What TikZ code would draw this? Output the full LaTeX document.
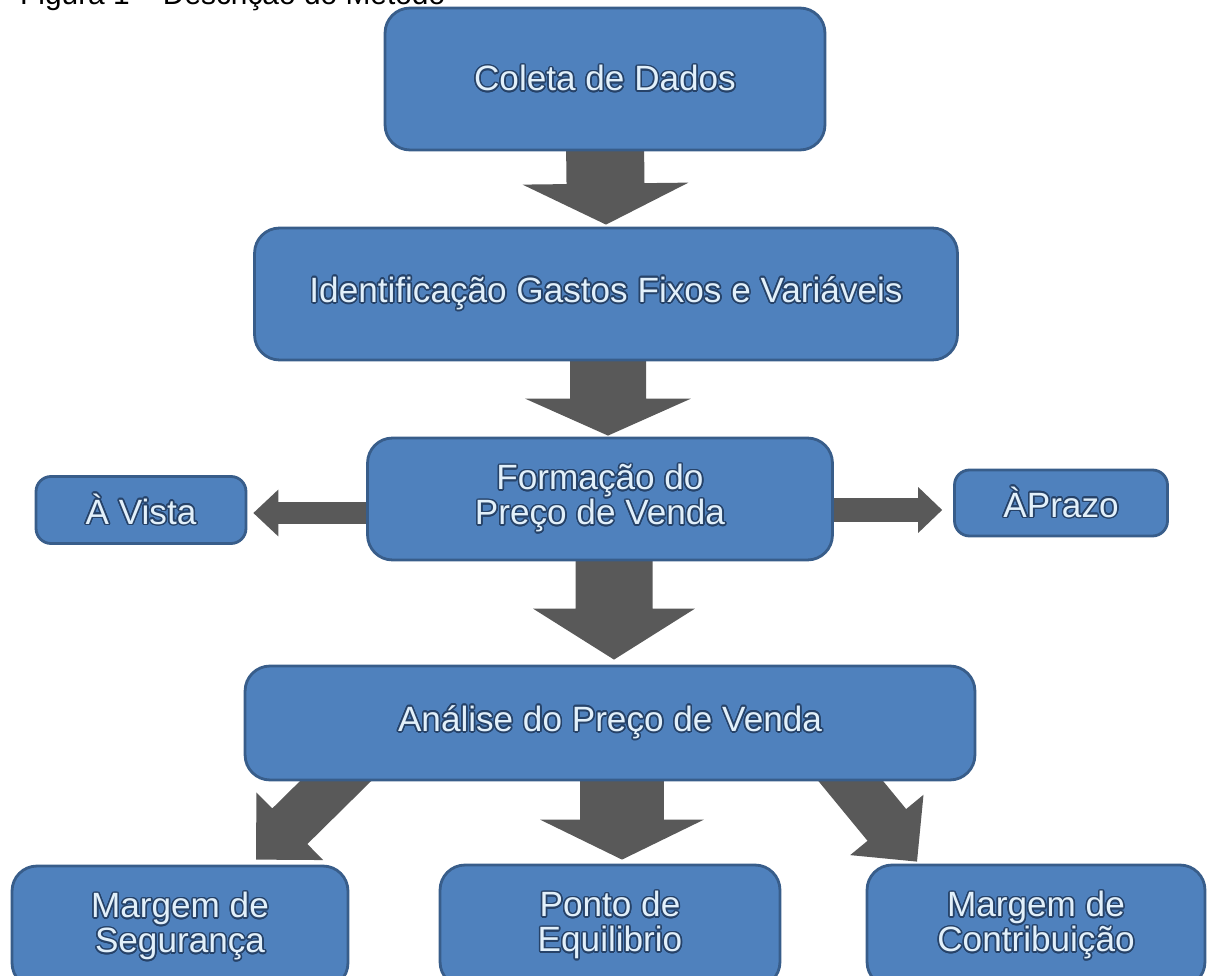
\documentclass[tikz,border=0pt]{standalone}
\usepackage{fontspec}
\setmainfont{Liberation Sans}
\usepackage{contour}
\contourlength{0.9pt}
\usetikzlibrary{calc,backgrounds}

\definecolor{boxfill}{RGB}{79,129,189}
\definecolor{boxline}{RGB}{56,93,138}
\definecolor{boxtext}{RGB}{226,240,250}
\definecolor{boxglow}{RGB}{38,66,104}
\definecolor{arrowgray}{RGB}{89,89,89}

\newcommand{\glow}[1]{\contour{boxglow}{#1}}

\tikzset{
  box/.style={draw=boxline, fill=boxfill, line width=1.6pt, rounded corners=0.5cm,
    text=boxtext, align=center, inner sep=0pt, font=\fontsize{20}{20}\selectfont},
  smallbox/.style={box, rounded corners=0.3cm},
}

% block arrow: tail, tip, shaft half width, head half width, head length
\newcommand{\blockarrow}[5]{
  \coordinate (hb) at ($(#2)!#5!(#1)$);
  \fill[arrowgray] ($(#1)!#3!90:(#2)$) -- ($(hb)!#3!-90:(#1)$) -- ($(hb)!#4!-90:(#1)$)
    -- (#2) -- ($(hb)!#4!90:(#1)$) -- ($(hb)!#3!90:(#1)$) -- ($(#1)!#3!-90:(#2)$) -- cycle;
}

\begin{document}
\begin{tikzpicture}[x=0.02cm, y=-0.02cm]
    \useasboundingbox (0,0) rectangle (1217,976);
    \node[anchor=base west, font=\fontsize{17}{20}\selectfont] (caption) at (14,5) {Figura 1 – Descrição do Método};

    \node[box, minimum width=8.8cm, minimum height=2.84cm] (coleta) at (605,79) {\glow{Coleta de Dados}};
    \node[box, minimum width=14.06cm, minimum height=2.64cm] (ident) at (606,294) {\glow{Identificação Gastos Fixos e Variáveis}};
    \node[box, minimum width=9.3cm, minimum height=2.44cm] (form) at (600,499) {\glow{Formação do}\\\glow{Preço de Venda}};
    \node[smallbox, minimum width=4.2cm, minimum height=1.34cm] (vista) at (141,510) {\glow{À Vista}};
    \node[smallbox, minimum width=4.26cm, minimum height=1.32cm] (prazo) at (1061,503) {\glow{ÀPrazo}};
    \node[box, minimum width=14.6cm, minimum height=2.28cm] (analise) at (610,723) {\glow{Análise do Preço de Venda}};
    \node[box, minimum width=6.72cm, minimum height=2.44cm] (seg) at (180,927) {\glow{Margem de}\\\glow{Segurança}};
    \node[box, minimum width=6.8cm, minimum height=2.44cm] (ponto) at (610,926) {\glow{Ponto de}\\\glow{Equilibrio}};
    \node[box, minimum width=6.76cm, minimum height=2.44cm] (contrib) at (1036,926) {\glow{Margem de}\\\glow{Contribuição}};

    \begin{scope}[on background layer]
      \coordinate (t1) at ($(coleta.south)+(0,-10)$);
      \coordinate (h1) at ($(ident.north)+(0,-2)$);
      \coordinate (t2) at ($(ident.south)+(2,-10)$);
      \coordinate (h2) at ($(form.north)+(8,-1)$);
      \coordinate (t3) at ($(form.south)+(14,-10)$);
      \coordinate (h3) at ($(analise.north)+(4,-5)$);
      \coordinate (t4) at ($(form.west)+(10,14)$);
      \coordinate (h4) at ($(vista.east)+(6,3)$);
      \coordinate (t5) at ($(form.east)+(-10,11)$);
      \coordinate (h5) at ($(prazo.west)+(-11,7)$);
      \coordinate (t6) at ($(analise.south west)+(122,-30)$);
      \coordinate (h6) at ($(seg.north)+(76,-5)$);
      \coordinate (t7) at ($(analise.south)+(12,-10)$);
      \coordinate (h7) at ($(ponto.north)+(12,-4)$);
      \coordinate (t8) at ($(analise.south east)+(-150,-30)$);
      \coordinate (h8) at ($(contrib.north)+(-119,-2)$);
      \blockarrow{t1}{h1}{0.78cm}{1.66cm}{0.82cm}
      \blockarrow{t2}{h2}{0.76cm}{1.66cm}{0.74cm}
      \blockarrow{t3}{h3}{0.77cm}{1.62cm}{1.02cm}
      \blockarrow{t4}{h4}{0.22cm}{0.47cm}{0.5cm}
      \blockarrow{t5}{h5}{0.24cm}{0.46cm}{0.48cm}
      \blockarrow{t6}{h6}{0.5cm}{0.95cm}{0.95cm}
      \blockarrow{t7}{h7}{0.84cm}{1.64cm}{0.8cm}
      \blockarrow{t8}{h8}{0.5cm}{0.95cm}{0.95cm}
    \end{scope}
\end{tikzpicture}
\end{document}
